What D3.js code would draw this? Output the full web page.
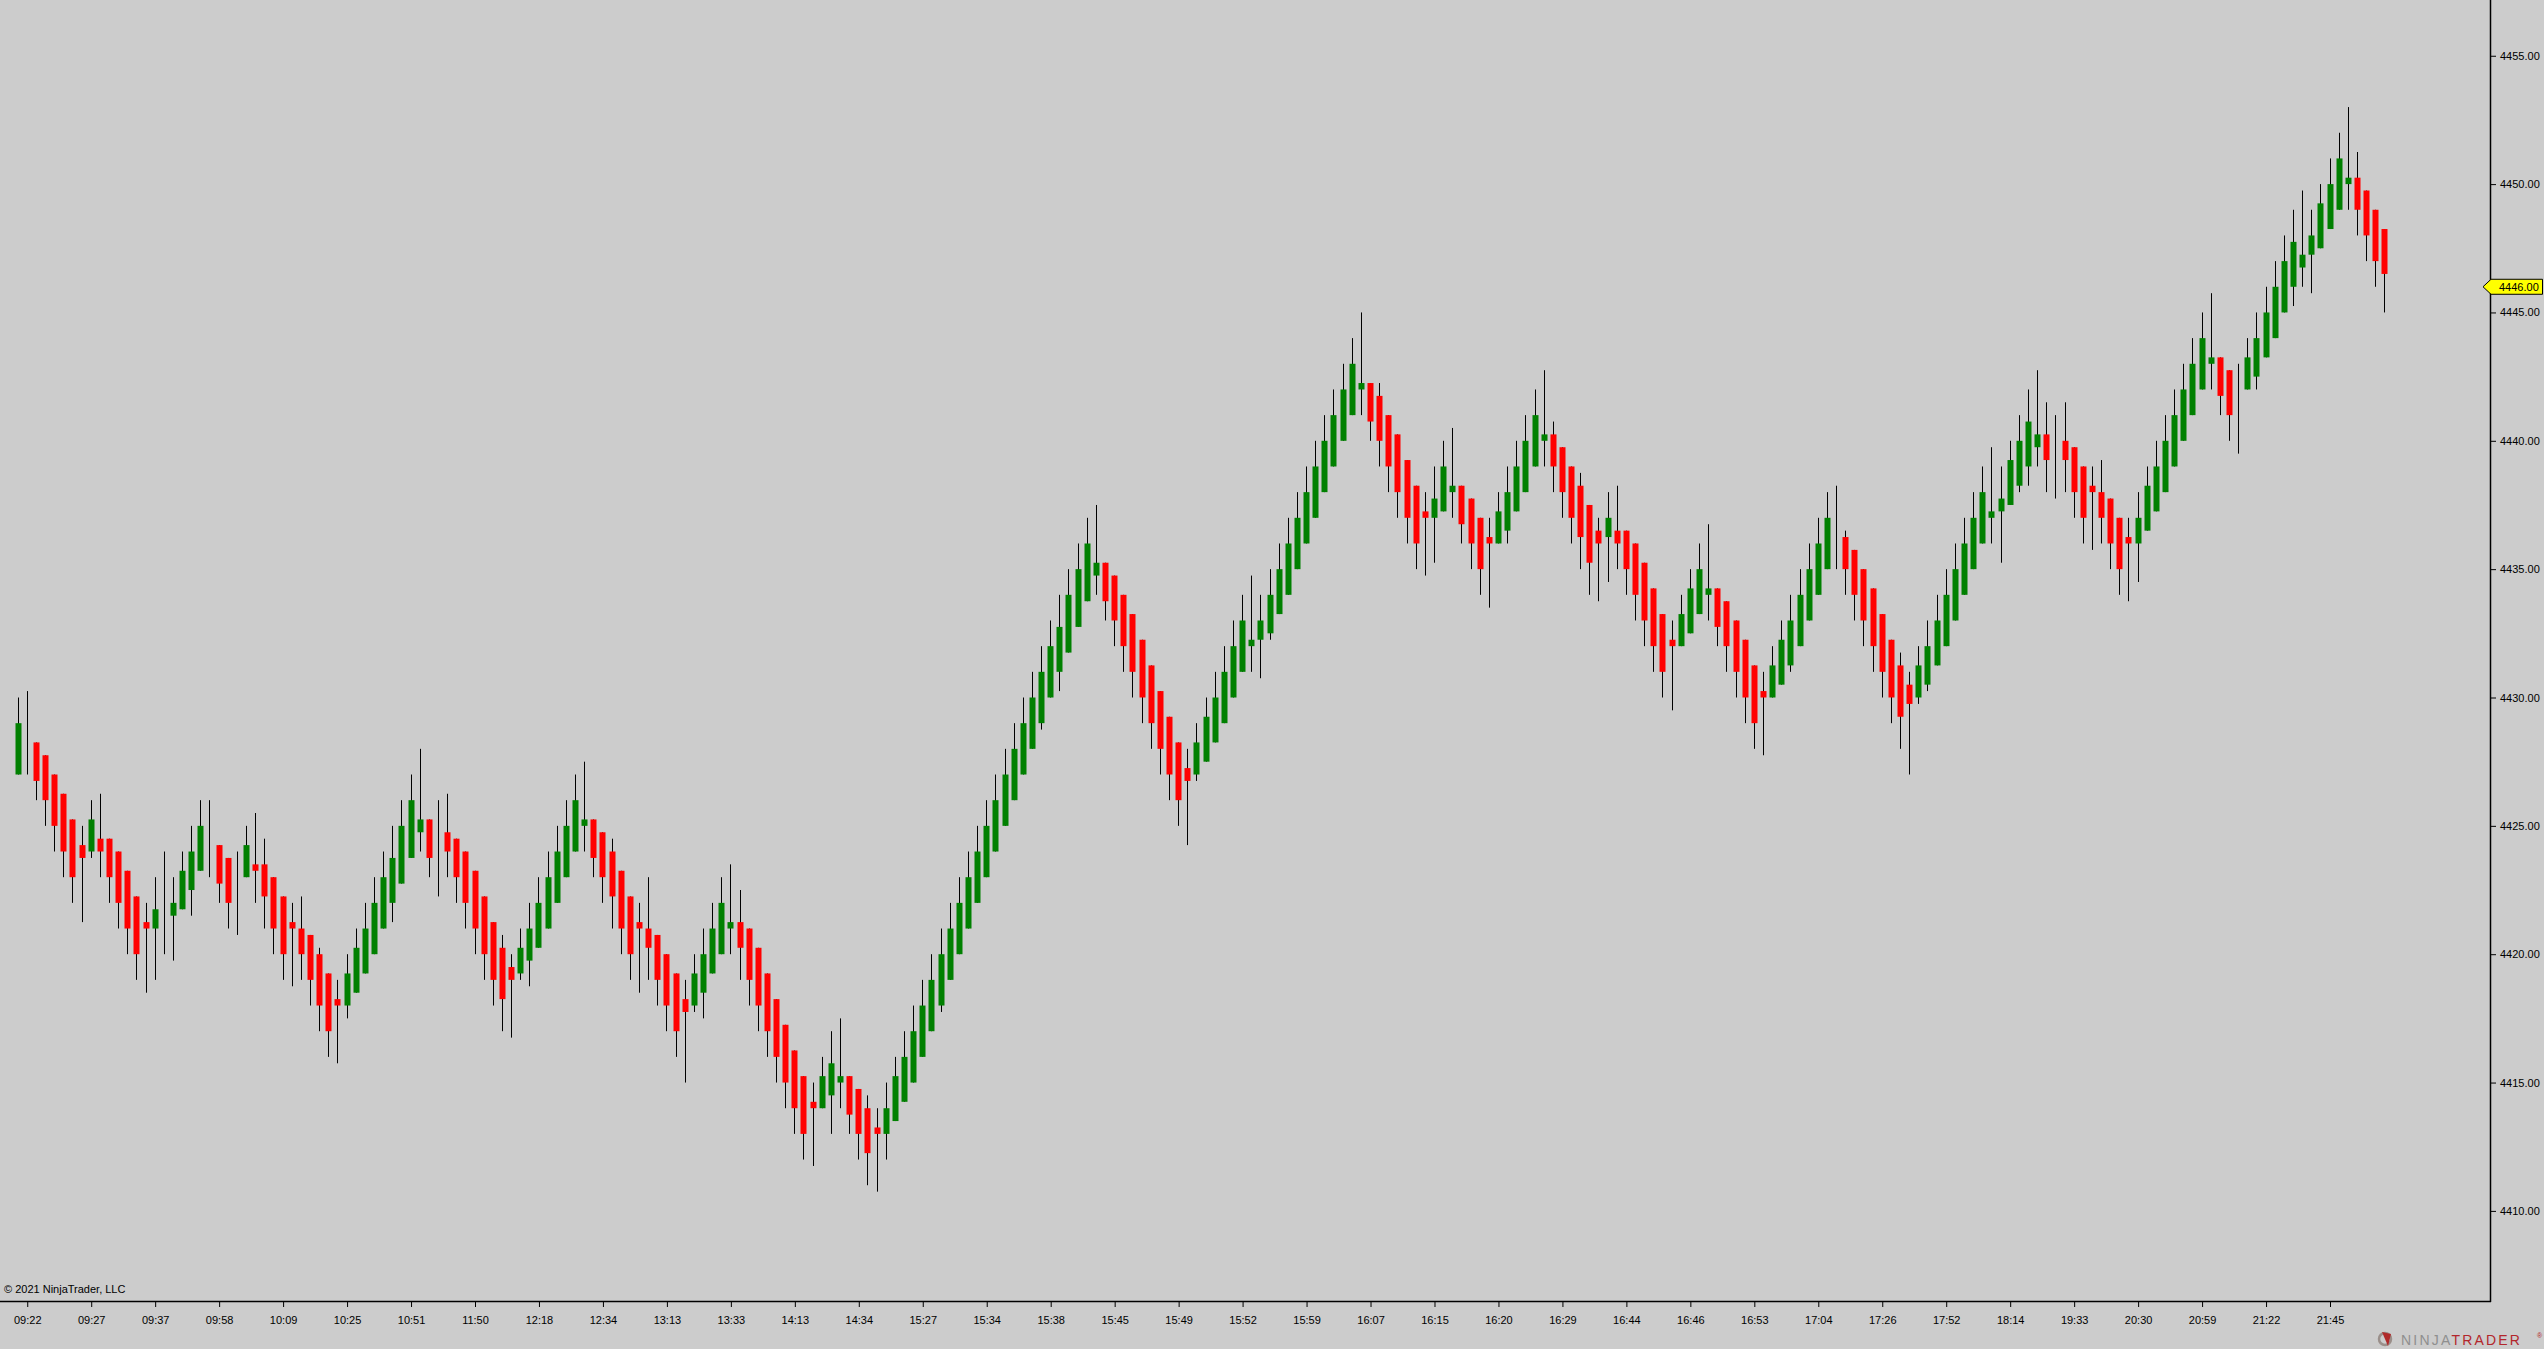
<!DOCTYPE html>
<html>
<head>
<meta charset="utf-8">
<script src="https://cdn.jsdelivr.net/npm/d3@7"></script>
<style>
  html, body { margin: 0; padding: 0; background: #cccccc; overflow: hidden; }
  svg { display: block; }
  text { font-family: "Liberation Sans", Arial, sans-serif; }
</style>
</head>
<body>
<svg id="chart" width="2544" height="1349"></svg>
<script>
// ---------------- DATA ----------------
const opens = [
4427,4428.25,4428.25,4427.75,4427,4426.25,4425.25,4424.25,4424,4424.5,
4424.5,4424,4423.25,4422.25,4421.25,4421,4422,4421.5,4421.75,4422.5,
4423.25,4425,4424.25,4423.75,4423,4423,4423.5,4423.5,4423,4422.25,
4421.25,4421,4420.75,4420,4419.25,4418.25,4418,4418.5,4419.25,4420,
4421,4422,4422.75,4423.75,4424.75,4425.25,4424.75,4424.75,4424.5,4424,
4423.25,4422.25,4421.25,4420.25,4419.5,4419.25,4419.75,4420.25,4421,4422,
4423,4424,4425,4425.25,4424.75,4424,4423.25,4422.25,4421.25,4421,
4420.75,4420,4419.25,4418.25,4418,4418.5,4419.25,4420,4421,4421.25,
4421,4420.25,4419.25,4418.25,4417.25,4416.25,4415.25,4414.25,4414,4414.5,
4415,4415.25,4414.75,4414,4413.25,4413,4413.5,4414.25,4415,4416,
4417,4418,4419,4420,4421,4422,4423,4424,4425,4426,
4427,4428,4429,4430,4431,4431.75,4432.75,4433.75,4434.75,4435.25,
4434.75,4434,4433.25,4432.25,4431.25,4430.25,4429.25,4428.25,4427.25,4427,
4427.5,4428.25,4429,4430,4431,4432,4432.25,4432.5,4433.25,4434,
4435,4436,4437,4438,4439,4440,4441,4442,4442.25,4441.75,
4441,4440.25,4439.25,4438.25,4437.25,4437,4437.25,4438,4438.25,4437.75,
4437,4436.25,4436,4436.5,4437.25,4438,4439,4440,4440.25,4439.75,
4439,4438.25,4437.5,4436.5,4436.25,4436.5,4436.5,4436,4435.25,4434.25,
4433.25,4432.25,4432,4432.5,4433.25,4434,4434.25,4433.75,4433,4432.25,
4431.25,4430.25,4430,4430.5,4431.25,4432,4433,4434,4435,4437,
4436.25,4435.75,4435,4434.25,4433.25,4432.25,4431.25,4430.5,4430,4430.5,
4431.25,4432,4433,4434,4435,4436,4437,4437.25,4437.5,4438.25,
4439,4439.75,4440.25,4440,4440,4439.75,4439,4438.25,4438,4437.75,
4437,4436.25,4436,4436.5,4437.25,4438,4439,4440,4441,4442,
4443,4443.25,4442.75,4441.5,4442,4442.5,4443.25,4444,4445,4446,
4446.75,4447.25,4447.5,4448.25,4449,4450,4450.25,4449.75,4449,4448.25
];
const highs = [
4430,4430.25,4428.25,4427.75,4427,4426.25,4425.25,4425,4426,4426.25,
4424.5,4424,4423.25,4422.25,4422,4423,4424,4423,4424,4425,
4426,4426,4424.25,4423.75,4424,4425,4425.5,4424.5,4423,4422.25,
4422,4422.25,4420.75,4420.25,4419.25,4419,4420,4421,4422,4423,
4424,4425,4426,4427,4428,4425.25,4426,4426.25,4424.5,4424,
4423.25,4422.25,4421.25,4420.75,4420,4421,4422,4423,4424,4425,
4426,4427,4427.5,4425.25,4424.75,4424.5,4423.25,4422.25,4422,4423,
4420.75,4420,4419.25,4419,4420,4421,4422,4423,4423.5,4422.5,
4421,4420.25,4419.25,4418.25,4417.25,4416.25,4415.25,4415,4416,4417,
4417.5,4415.25,4414.75,4414.5,4414,4415,4416,4417,4418,4419,
4420,4421,4422,4423,4424,4425,4426,4427,4428,4429,
4430,4431,4432,4433,4434,4435,4436,4437,4437.5,4435.25,
4434.75,4434,4433.25,4432.25,4431.25,4430.25,4429.25,4428.25,4428,4429,
4430,4431,4432,4433,4434,4434.75,4434,4435,4436,4437,
4438,4439,4440,4441,4442,4443,4444,4445,4442.25,4442.25,
4441,4440.25,4439.25,4438.25,4438,4439,4440,4440.5,4438.25,4437.75,
4437,4437,4438,4439,4440,4441,4442,4442.75,4440.75,4439.75,
4439,4438.75,4437.5,4437,4438,4438.25,4436.5,4436,4435.25,4434.25,
4433.25,4433,4434,4435,4436,4436.75,4434.25,4433.75,4433,4432.25,
4431.25,4431,4432,4433,4434,4435,4436,4437,4438,4438.25,
4436.5,4435.75,4435,4434.25,4433.25,4432.25,4431.75,4431,4432,4433,
4434,4435,4436,4437,4438,4439,4439.75,4439,4440,4441,
4442,4442.75,4441.5,4441,4441.5,4439.75,4439,4439,4439.25,4437.75,
4437,4437,4438,4439,4440,4441,4442,4443,4444,4445,
4445.75,4443.25,4442.75,4443,4444,4445,4446,4447,4448,4449,
4449.75,4449,4450,4451,4452,4453,4451.25,4449.75,4449,4448.25
];
const lows = [
4427,4427,4426,4425,4424,4423,4422,4421.25,4423.75,4423,
4422,4421,4420,4419,4418.5,4419,4420,4419.75,4421.75,4421.5,
4423.25,4423,4422,4421,4420.75,4423,4422,4421,4420,4419,
4418.75,4419,4418,4417,4416,4415.75,4417.5,4418.5,4419.25,4420,
4421,4421.25,4422.75,4423.75,4424,4423,4422.25,4423,4422,4421,
4420,4419,4418,4417,4416.75,4419,4418.75,4420.25,4421,4422,
4423,4424,4424,4423,4422,4421,4420,4419,4418.5,4419,
4418,4417,4416,4415,4417.75,4417.5,4419.25,4420,4420,4419,
4418,4417,4416,4415,4414,4413,4412,4411.75,4414,4413,
4414,4413,4412,4411,4410.75,4412,4413.5,4414.25,4415,4416,
4417,4417.75,4419,4420,4421,4422,4423,4424,4425,4426,
4427,4428,4428.75,4430,4430.25,4431.75,4432.75,4433.75,4434,4433,
4432,4431,4430,4429,4428,4427,4426,4425,4424.25,4426.75,
4427.5,4428.25,4429,4430,4431,4431,4430.75,4432.25,4433.25,4434,
4435,4436,4437,4438,4439,4440,4441,4441,4440,4439,
4438,4437,4436,4435,4434.75,4435.25,4437.25,4437,4436,4435,
4434,4433.5,4436,4436,4437.25,4438,4439,4439,4438,4437,
4436,4435,4434,4433.75,4434.5,4435,4434,4433,4432,4431,
4430,4429.5,4432,4432.5,4433.25,4433,4432,4431,4430,4429,
4428,4427.75,4430,4430.5,4431,4432,4433,4434,4435,4435,
4434,4433,4432,4431,4430,4429,4428,4427,4429.75,4430.25,
4431.25,4432,4433,4434,4435,4436,4436,4435.25,4437.5,4438,
4438.25,4439,4438,4437.75,4438,4437,4436,4435.75,4436,4435,
4434,4433.75,4434.5,4436.5,4437.25,4438,4439,4440,4441,4442,
4442,4441,4440,4439.5,4442,4442,4443.25,4444,4445,4445.25,
4446,4445.75,4447.5,4448.25,4449,4449,4448,4447,4446,4445
];
const closes = [
4429,4428.25,4426.75,4426,4425,4424,4423,4423.75,4425.25,4424,
4423,4422,4421,4420,4421,4421.75,4422,4422,4423.25,4424,
4425,4425,4422.75,4422,4423,4424.25,4423.25,4422.25,4421,4420,
4421,4420,4419,4418,4417,4418,4419.25,4420.25,4421,4422,
4423,4423.75,4425,4426,4425.25,4423.75,4424.75,4424,4423,4422,
4421,4420,4419,4418.25,4419,4420.25,4421,4422,4423,4424,
4425,4426,4425.25,4423.75,4423,4422.25,4421,4420,4421,4420.25,
4419,4418,4417,4417.75,4419.25,4420,4421,4422,4421.25,4420.25,
4419,4418,4417,4416,4415,4414,4413,4414,4415.25,4415.75,
4415.25,4413.75,4413,4412.25,4413,4414,4415.25,4416,4417,4418,
4419,4420,4421,4422,4423,4424,4425,4426,4427,4428,
4429,4430,4431,4432,4432.75,4434,4435,4436,4435.25,4433.75,
4433,4432,4431,4430,4429,4428,4427,4426,4426.75,4428.25,
4429.25,4430,4431,4432,4433,4432.25,4433,4434,4435,4436,
4437,4438,4439,4440,4441,4442,4443,4442.25,4440.75,4440,
4439,4438,4437,4436,4437,4437.75,4439,4438.25,4436.75,4436,
4435,4436,4437.25,4438,4439,4440,4441,4440.25,4439,4438,
4437,4436.25,4435.25,4436,4437,4436,4435,4434,4433,4432,
4431,4432,4433.25,4434.25,4435,4434.25,4432.75,4432,4431,4430,
4429,4430,4431.25,4432.25,4433,4434,4435,4436,4437,4437,
4435,4434,4433,4432,4431,4430,4429.25,4429.75,4431.25,4432,
4433,4434,4435,4436,4437,4438,4437.25,4437.75,4439.25,4440,
4440.75,4440.25,4439.25,4440,4439.25,4438,4437,4438,4437,4436,
4435,4436,4437,4438.25,4439,4440,4441,4442,4443,4444,
4443.25,4441.75,4441,4441.5,4443.25,4444,4445,4446,4447,4447.75,
4447.25,4448,4449.25,4450,4451,4450.25,4449,4448,4447,4446.5
];
const timeLabels = ["09:22","09:27","09:37","09:58","10:09","10:25","10:51","11:50","12:18","12:34",
  "13:13","13:33","14:13","14:34","15:27","15:34","15:38","15:45","15:49","15:52",
  "15:59","16:07","16:15","16:20","16:29","16:44","16:46","16:53","17:04","17:26",
  "17:52","18:14","19:33","20:30","20:59","21:22","21:45"];
const labelFirstBar = 1, labelEvery = 7;
const priceTicks = [4410, 4415, 4420, 4425, 4430, 4435, 4440, 4445, 4450, 4455];
const lastPrice = 4446.00;
const copyright = "\u00A9 2021 NinjaTrader, LLC";

// ---------------- LAYOUT ----------------
const W = 2544, H = 1349;
const axisX = 2490, axisY = 1301;
const N = opens.length;
const bars = opens.map((o, i) => ({ i, o, h: highs[i], l: lows[i], c: closes[i] }));

const x = d3.scaleLinear().domain([0, N - 1]).range([17.6, 17.6 + (N - 1) * 9.138]);
const y = d3.scaleLinear().domain([4410, 4455]).range([1210.9, 55.75]);

const svg = d3.select("#chart");
svg.append("rect").attr("width", W).attr("height", H).attr("fill", "#cccccc");

const g = svg.append("g");

// wicks
g.selectAll("line.wick").data(bars).join("line")
  .attr("class", "wick")
  .attr("x1", d => Math.round(x(d.i)) + 0.5)
  .attr("x2", d => Math.round(x(d.i)) + 0.5)
  .attr("y1", d => y(d.h))
  .attr("y2", d => y(d.l))
  .attr("stroke", "#000")
  .attr("stroke-width", 1);

// bodies
g.selectAll("rect.body").data(bars.filter(d => d.o !== d.c)).join("rect")
  .attr("class", "body")
  .attr("x", d => Math.round(x(d.i)) - 2.5)
  .attr("width", 6)
  .attr("y", d => y(Math.max(d.o, d.c)))
  .attr("height", d => Math.abs(y(d.o) - y(d.c)))
  .attr("fill", d => d.c > d.o ? "#008000" : "#ff0000");

// frame lines
svg.append("line").attr("x1", axisX + 0.5).attr("x2", axisX + 0.5).attr("y1", 0).attr("y2", axisY + 1)
  .attr("stroke", "#000").attr("stroke-width", 1.5);
svg.append("line").attr("x1", 0).attr("x2", axisX + 1).attr("y1", axisY + 0.5).attr("y2", axisY + 0.5)
  .attr("stroke", "#000").attr("stroke-width", 1.5);

// y axis
const yAxis = d3.axisRight(y).tickValues(priceTicks).tickFormat(d3.format(".2f")).tickSize(5).tickPadding(4);
const gy = svg.append("g").attr("transform", `translate(${axisX + 1},0)`).call(yAxis);
gy.select(".domain").remove();
gy.selectAll(".tick line").attr("stroke", "#000");
gy.selectAll(".tick text").attr("font-size", 11).attr("fill", "#000")
  .attr("font-family", "'Liberation Sans', Arial, sans-serif");

// x axis
const tickIdx = timeLabels.map((t, k) => labelFirstBar + k * labelEvery);
const xAxis = d3.axisBottom(x).tickValues(tickIdx)
  .tickFormat((d, k) => timeLabels[k]).tickSize(5).tickPadding(9);
const gx = svg.append("g").attr("transform", `translate(0.5,${axisY + 1})`).call(xAxis);
gx.select(".domain").remove();
gx.selectAll(".tick line").attr("stroke", "#000");
gx.selectAll(".tick text").attr("font-size", 11).attr("fill", "#000")
  .attr("font-family", "'Liberation Sans', Arial, sans-serif");

// copyright
svg.append("text").attr("x", 4).attr("y", 1293).attr("font-size", 11).attr("fill", "#000")
  .text(copyright);

// last price marker
const ly = y(lastPrice);
const marker = svg.append("g");
marker.append("path")
  .attr("d", `M${axisX - 7},${ly} L${axisX + 1},${ly - 7.5} L${W - 1.5},${ly - 7.5} L${W - 1.5},${ly + 7.5} L${axisX + 1},${ly + 7.5} Z`)
  .attr("fill", "#ffff00").attr("stroke", "#000").attr("stroke-width", 1);
marker.append("text").attr("x", axisX + 9).attr("y", ly + 4).attr("font-size", 11).attr("fill", "#000")
  .text(d3.format(".2f")(lastPrice));

// logo
const logo = svg.append("g");
logo.append("circle").attr("cx", 2385).attr("cy", 1339).attr("r", 6)
  .attr("fill", "none").attr("stroke", "#9a8f8a").attr("stroke-width", 2.5);
logo.append("path").attr("d", "M2382,1332 L2388,1346 L2391,1334 Z").attr("fill", "#b02a2a");
const lt = logo.append("text").attr("x", 2401).attr("y", 1345).attr("font-size", 14).attr("letter-spacing", 2.2);
lt.append("tspan").attr("fill", "#8f8f8f").text("NINJA");
lt.append("tspan").attr("fill", "#b3262b").text("TRADER");
logo.append("text").attr("x", 2537).attr("y", 1338).attr("font-size", 7).attr("fill", "#b3262b").text("\u00AE");
</script>
</body>
</html>
